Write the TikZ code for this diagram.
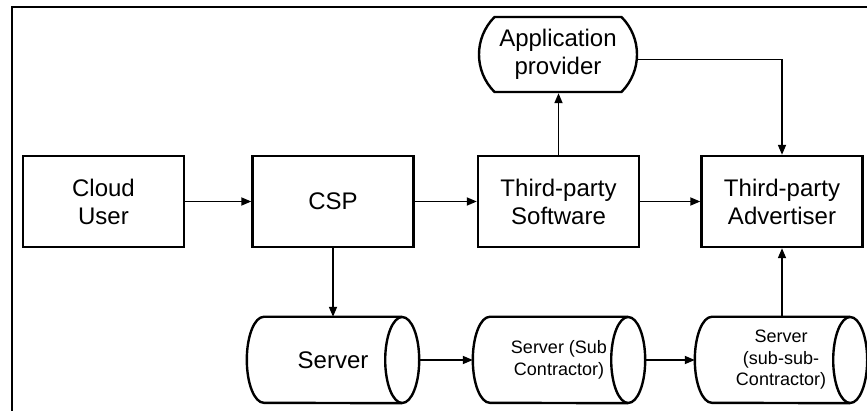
\documentclass[tikz,border=0pt]{standalone}
\usepackage{fontspec}
\setmainfont{Liberation Sans}
\usetikzlibrary{shapes.geometric,shapes.misc,arrows.meta}
\begin{document}
\begin{tikzpicture}[x=1pt,y=-1pt,
  box/.style={draw,line width=2.4pt,rectangle,minimum width=161pt,minimum height=91pt,inner sep=0pt,
    align=center,font=\fontsize{24}{28}\selectfont},
  appbox/.style={draw,line width=2.4pt,rounded rectangle,rounded rectangle arc length=90,
    minimum width=158pt,minimum height=75pt,inner sep=0pt,align=center,font=\fontsize{24}{28}\selectfont},
  cyl/.style={rectangle,minimum width=172pt,minimum height=86pt,inner sep=0pt,align=center},
  cylline/.style={line width=2.4pt},
  arr/.style={line width=1.7pt,-{Triangle[length=10pt,width=8pt]}}
]
\useasboundingbox (0,0) rectangle (867,411);
\draw[line width=2.2pt] (12,412) -- (12,7) -- (868,7);

\node[box] (cu) at (103.5,201.5) {Cloud\\User};
\node[box] (csp) at (333,201.5) {CSP};
\node[box] (tps) at (558.5,201.5) {Third-party\\Software};
\node[box] (tpa) at (782,201.5) {Third-party\\Advertiser};
\node[appbox] (app) at (558,54.5) {Application\\provider};

\node[cyl,font=\fontsize{24}{28}\selectfont] (s1) at (333,360) {Server};
\node[cyl,font=\fontsize{18}{21.5}\selectfont] (s2) at (559,360) {Server (Sub\\Contractor)};
\node[cyl,font=\fontsize{18}{21.5}\selectfont] (s3) at (781,360) {Server\\(sub-sub-\\Contractor)};

\foreach \s in {s1,s2,s3}{
  \draw[cylline] ([xshift=-17pt]\s.north east) -- ([xshift=17pt]\s.north west)
     arc[start angle=90,end angle=270,x radius=17pt,y radius=43pt]
     -- ([xshift=-17pt]\s.south east);
  \draw[cylline] ([xshift=-17pt]\s.east) ellipse[x radius=17pt,y radius=43pt];
}

\draw[arr] (cu) -- (csp);
\draw[arr] (csp) -- (tps);
\draw[arr] (tps) -- (tpa);
\draw[arr] (tps.north) -- (tps.north |- app.south);
\draw[arr] ([yshift=-5pt]app.east) -| (tpa.north);
\draw[arr] (csp.south) -- (csp.south |- s1.north);
\draw[arr] (s1) -- (s2);
\draw[arr] (s2) -- (s3);
\draw[arr] (s3.north -| tpa.south) -- (tpa.south);
\end{tikzpicture}
\end{document}
